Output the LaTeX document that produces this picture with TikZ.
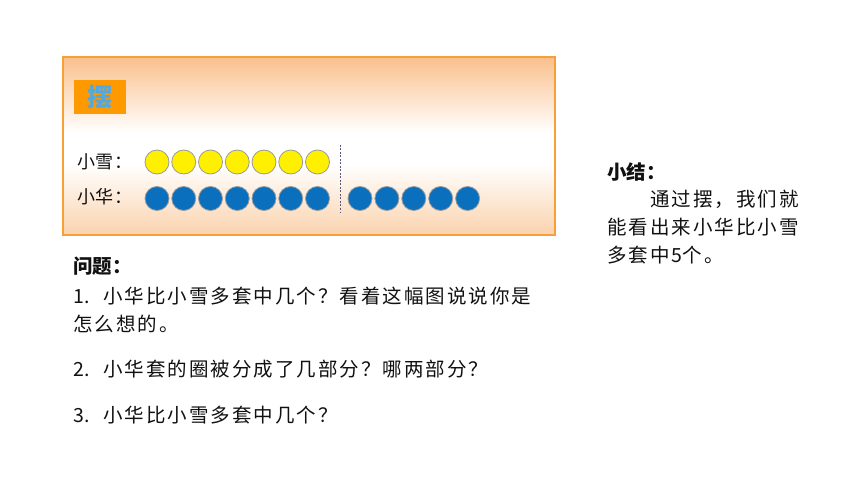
\documentclass[tikz,border=0pt]{standalone}
\usepackage{fontspec}
\setmainfont{Noto Sans CJK SC}
\definecolor{ctop}{HTML}{FAC08C}
\definecolor{cbot}{HTML}{FBD3AE}
\definecolor{cborder}{HTML}{F7A035}
\definecolor{corange}{HTML}{FF9900}
\definecolor{clabel}{HTML}{55A8DE}
\definecolor{cyel}{HTML}{FFF000}
\definecolor{cblue}{HTML}{0A70BE}
\definecolor{cring}{HTML}{9A9A9A}
\definecolor{cdash}{HTML}{5A5A78}
\definecolor{ctext}{HTML}{111111}
\newlength\cjkw
\def\cjksp#1{\cjkspi#1\relax}
\def\cjkspi#1{\ifx#1\relax\else\makebox[\cjkw][l]{#1}\expandafter\cjkspi\fi}
\begin{document}
\begin{tikzpicture}[x=1pt,y=-1pt,
  yc/.style={circle,minimum size=24pt,inner sep=0pt,fill=cyel,draw=cring,line width=0.8pt},
  bc/.style={circle,minimum size=24pt,inner sep=0pt,fill=cblue,draw=cring,line width=0.8pt},
  txt/.style={anchor=base west,inner sep=0pt,text=ctext,font=\fontsize{19.5}{19.5}\selectfont\setlength\cjkw{21.5pt}},
  txtb/.style={anchor=base west,inner sep=0pt,text=ctext,font=\fontsize{19.5}{19.5}\selectfont\bfseries},
  rowlab/.style={anchor=base west,inner sep=0pt,text=ctext,font=\fontsize{18}{18}\selectfont\setlength\cjkw{18.5pt}},
  tag/.style={fill=corange,minimum width=52pt,minimum height=34pt,inner sep=0pt,text=clabel,font=\fontsize{25}{25}\selectfont\bfseries},
  divider/.style={draw=cdash,line width=0.8pt,dash pattern=on 2pt off 1.5pt}]
\useasboundingbox (0,0) rectangle (860,484);
\fill[white] (0,0) rectangle (860,484);
% panel gradient
\foreach \i in {0,...,75}{
  \pgfmathsetmacro\p{100*(1-\i/76)}
  \fill[ctop!\p!white] (63,{57+\i}) rectangle (555,{58.3+\i});
}
\foreach \i in {0,...,70}{
  \pgfmathsetmacro\p{100*\i/70}
  \fill[cbot!\p!white] (63,{164+\i}) rectangle (555,{165.3+\i});
}
\draw[cborder,line width=1.4pt] (63,57) rectangle (555,235);
\node[tag] (bai) at (100,97) {摆};
% row labels
\node[rowlab] (xue) at (77,168) {\cjksp{小雪：}};
\node[rowlab] (hua) at (77,203.5) {\cjksp{小华：}};
% yellow circles
\foreach \i in {0,...,6}{
  \node[yc] (y\i) at ({157+26.75*\i},162) {};
}
% blue circles
\foreach \i in {0,...,6}{
  \node[bc] (b\i) at ({157+26.75*\i},198.5) {};
}
\foreach \i in {0,...,4}{
  \node[bc] (e\i) at ({360+26.9*\i},198.5) {};
}
\coordinate (dtop) at (340,145);
\coordinate (dbot) at (340,213);
\draw[divider] (dtop) -- (dbot);
% questions
\node[txtb] (q0) at (73,273) {问题：};
\node[txt] (q1n) at (73,303) {1.};
\node[txt] (q1) at (103,303) {\cjksp{小华比小雪多套中几个？看着这幅图说说你是}};
\node[txt] (q1b) at (73,331) {\cjksp{怎么想的。}};
\node[txt] (q2n) at (73,376) {2.};
\node[txt] (q2) at (103,376) {\cjksp{小华套的圈被分成了几部分？哪两部分？}};
\node[txt] (q3n) at (73,422) {3.};
\node[txt] (q3) at (103,422) {\cjksp{小华比小雪多套中几个？}};
% summary
\node[txtb] (s0) at (607,179) {小结：};
\node[txt] (s1) at (650,207) {\cjksp{通过摆，我们就}};
\node[txt] (s2) at (607,234) {\cjksp{能看出来小华比小雪}};
\node[txt] (s3) at (607,262) {\cjksp{多套中}5\cjksp{个。}};
\end{tikzpicture}
\end{document}
